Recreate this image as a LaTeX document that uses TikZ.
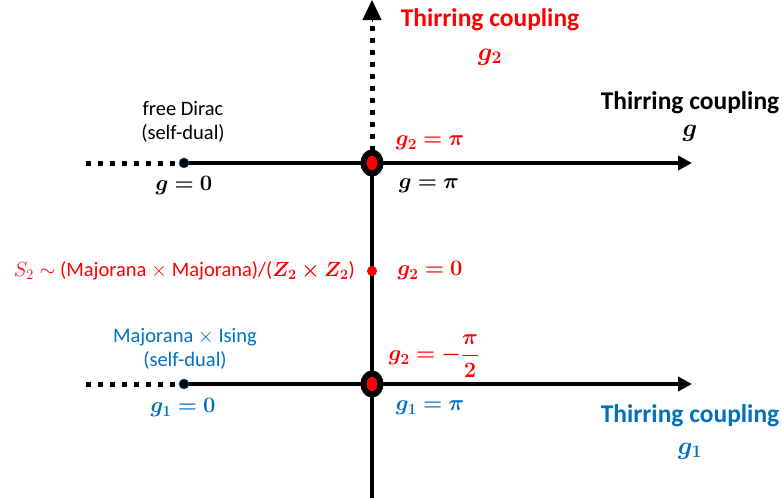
\RequirePackage{fix-cm}
\documentclass[tikz,border=0pt]{standalone}
\usepackage{amsmath}
\usepackage{bm}
\usepackage{fontspec}
\setmainfont{Carlito}
\usetikzlibrary{arrows.meta,shapes.geometric}
\definecolor{thred}{RGB}{255,0,0}
\definecolor{thblue}{RGB}{0,112,192}
\begin{document}
\begin{tikzpicture}[x=1pt,y=-1pt]
        \tikzset{axis/.style={line width=4.5pt},
                 dotline/.style={line width=5pt, dash pattern=on 5pt off 7pt},
                 tip/.style={-{Triangle[length=14pt,width=14pt]}},
                 bigdot/.style={draw=black, fill=thred, ellipse, line width=6pt, minimum width=17pt, minimum height=21pt, inner sep=0pt},
                 reddot/.style={fill=thred, circle, minimum size=10pt, inner sep=0pt},
                 enddot/.style={fill=black, draw=thblue, line width=0.6pt, circle, minimum size=10pt, inner sep=0pt},
                 lbl/.style={font=\fontsize{20.5}{24}\selectfont, align=center, inner sep=0pt},
                 title/.style={font=\fontsize{25.5}{30}\selectfont\bfseries, inner sep=0pt},
                 val/.style={font=\fontsize{22}{26}\selectfont, inner sep=0pt}}
        \useasboundingbox (0,0) rectangle (782,498);
        % points on the axes
        \coordinate (vb) at (372,498);
        \coordinate (vt) at (372,0);
        \coordinate (c1) at (372,163);
        \coordinate (c2) at (372,384);
        \coordinate (s2) at (372,271);
        \coordinate (d1) at (184,163);
        \coordinate (d2) at (184,384);
        \coordinate (l1) at (86,163);
        \coordinate (l2) at (86,384);
        \coordinate (e1) at (692,163);
        \coordinate (e2) at (692,384);
        % axes
        \draw [axis] (vb) -- (c1);
        \draw [dotline] (c1) -- (372,24);
        \draw [line width=1pt, -{Triangle[length=20pt,width=19pt]}] (372,22) -- (vt);
        \draw [dotline] (l1) -- (d1);
        \draw [axis, tip] (d1) -- (e1);
        \draw [dotline] (l2) -- (d2);
        \draw [axis, tip] (d2) -- (e2);
        % points
        \node [bigdot] (p1) at (c1) {};
        \node [bigdot] (p2) at (c2) {};
        \node [reddot] (p3) at (s2) {};
        \node [enddot] (q1) at (d1) {};
        \node [enddot] (q2) at (d2) {};
        % labels
        \node [title, text=thred] (t2) at (490,20) {Thirring coupling};
        \node [val, text=thred, scale=1.15] (t2g) at (490,57) {$\bm{g_2}$};
        \node [title] (t0) at (690,103) {Thirring coupling};
        \node [val, scale=1.15] (t0g) at (690,133) {$\bm{g}$};
        \node [title, text=thblue] (t1) at (690,416) {Thirring coupling};
        \node [val, text=thblue, scale=1.15] (t1g) at (690,451) {$\bm{g_1}$};
        \node [lbl] (dirac) at (183,122) {free Dirac\\(self-dual)};
        \node [lbl, text=thblue] (ising) at (185,349) {Majorana $\times$ Ising\\(self-dual)};
        \node [val] (g0) at (184,186) {$\bm{g=0}$};
        \node [val] (gpi) at (429,186) {$\bm{g=\pi}$};
        \node [val, text=thred] (g2pi) at (430,143) {$\bm{g_2=\pi}$};
        \node [val, text=thred] (g20) at (430,271) {$\bm{g_2=0}$};
        \node [val, text=thred] (g2m) at (434,356) {$\bm{g_2=-\dfrac{\pi}{2}}$};
        \node [val, text=thblue] (g10) at (183,408) {$\bm{g_1=0}$};
        \node [val, text=thblue] (g1pi) at (430,408) {$\bm{g_1=\pi}$};
        \node [lbl, text=thred, anchor=east] (s2l) at (355,271) {$S_2\sim$ (Majorana $\times$ Majorana)/($\bm{Z_2\times Z_2}$)};
\end{tikzpicture}
\end{document}
